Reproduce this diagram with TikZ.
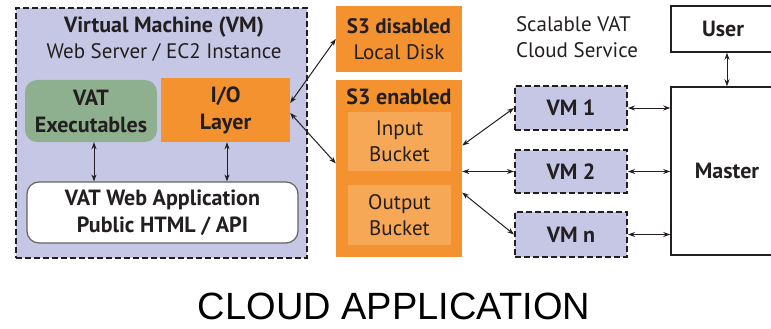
\documentclass[tikz,border=0pt]{standalone}
\usepackage{fontspec}
\setmainfont{PT Sans}
\newfontfamily\capfont{Liberation Sans}
\usetikzlibrary{arrows.meta}

\definecolor{ink}{RGB}{35,31,32}
\definecolor{vmfill}{RGB}{197,199,228}
\definecolor{orng}{RGB}{243,146,47}
\definecolor{bkt}{RGB}{246,168,86}
\definecolor{exegreen}{RGB}{143,176,143}

\begin{document}
\begin{tikzpicture}[x=1pt,y=-1pt,
  >={Stealth[length=7pt,width=5pt]},
  every node/.style={inner sep=0pt,text=ink,align=center,
    font=\fontsize{21}{26}\selectfont},
  boldtext/.style={font=\bfseries\fontsize{22}{27}\selectfont},
  vmbox/.style={draw=ink,fill=vmfill,dash pattern=on 6pt off 3pt,line width=2pt},
  orbox/.style={fill=orng},
  bktbox/.style={fill=bkt},
  exebox/.style={fill=exegreen,rounded corners=12pt},
  webbox/.style={draw=ink!70,fill=white,line width=1.2pt,rounded corners=12pt},
  plainbox/.style={draw=ink,fill=white,line width=1.5pt},
  link/.style={<->,draw=ink,line width=1pt}
]
\useasboundingbox (0,0) rectangle (771,329);

% virtual machine
\node[vmbox,minimum width=291pt,minimum height=250pt] (vm) at (161.5,133) {};
\node[boldtext] (vmtitle) at (164,27) {Virtual Machine (VM)};
\node (vmsub) at (164,52) {Web Server / EC2 Instance};
\node[exebox,boldtext,minimum width=132pt,minimum height=62pt] (exe) at (91,111) {VAT\\Executables};
\node[orbox,boldtext,minimum width=129pt,minimum height=64pt] (io) at (225.5,110) {I/O\\Layer};
\node[webbox,boldtext,minimum width=271pt,minimum height=61pt] (web) at (162.5,212.5) {VAT Web Application\\Public HTML / API};

% storage
\node[orbox,minimum width=126pt,minimum height=66pt] (disabled) at (399,39) {\textbf{S3 disabled}\\Local Disk};
\node[orbox,minimum width=126pt,minimum height=177pt] (enabled) at (399,168.5) {};
\node[boldtext] (entitle) at (399,97) {S3 enabled};
\node[bktbox,minimum width=103pt,minimum height=59pt] (inbkt) at (399.5,141.5) {Input\\Bucket};
\node[bktbox,minimum width=103pt,minimum height=60pt] (outbkt) at (399.5,215) {Output\\Bucket};

% cloud service
\node[align=left] (scal) at (577,37) {Scalable VAT\\Cloud Service};
\node[vmbox,boldtext,minimum width=112pt,minimum height=44pt] (vm1) at (571,108) {VM 1};
\node[vmbox,boldtext,minimum width=112pt,minimum height=43pt] (vm2) at (571,171.5) {VM 2};
\node[vmbox,boldtext,minimum width=112pt,minimum height=45pt] (vmn) at (571,234.5) {VM n};
\node[plainbox,boldtext,minimum width=104pt,minimum height=46pt] (user) at (723,29) {User};
\node[plainbox,boldtext,minimum width=112pt,minimum height=168pt] (master) at (727,171) {Master};

\node[font=\capfont\fontsize{38}{44}\selectfont,text=black] (caption) at (394,306) {CLOUD APPLICATION};

% connectors
\draw[link] ([xshift=3pt]exe.south) -- ([xshift=3pt]exe.south |- web.north);
\draw[link] ([xshift=1.5pt]io.south) -- ([xshift=1.5pt]io.south |- web.north);
\draw[link] ([yshift=7pt]io.east) -- (disabled.west);
\draw[link] ([yshift=-3pt]io.east) -- ([yshift=5pt]enabled.west);
\draw[link] (vm1.west) -- ([yshift=23pt]enabled.east);
\draw[link] (vm2.west) -- (vm2.west -| enabled.east);
\draw[link] (vmn.west) -- ([yshift=-24pt]enabled.east);
\draw[link] (vm1.east) -- (vm1.east -| master.west);
\draw[link] (vm2.east) -- (vm2.east -| master.west);
\draw[link] (vmn.east) -- (vmn.east -| master.west);
\draw[link] (master.north) -- (master.north |- user.south);
\end{tikzpicture}
\end{document}
